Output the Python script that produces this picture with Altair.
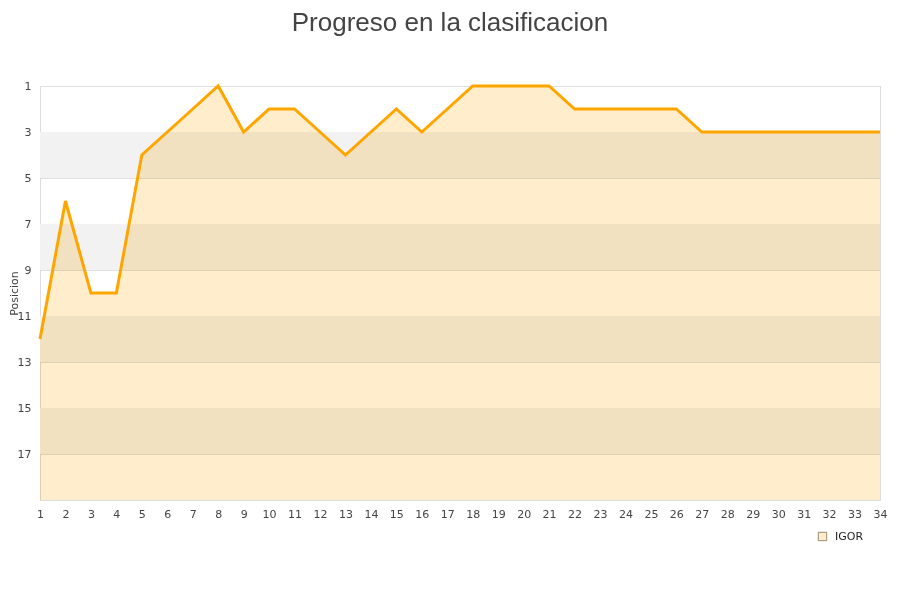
import altair as alt
import pandas as pd

rounds = list(range(1, 35))
positions = [12, 6, 10, 10, 4, 3, 2, 1, 3, 2, 2, 3, 4, 3, 2, 3, 2,
             1, 1, 1, 1, 2, 2, 2, 2, 2, 3, 3, 3, 3, 3, 3, 3, 3]
player = "IGOR"
band_starts = [3, 7, 11, 15]
band_ends = [5, 9, 13, 17]
y_ticks = [1, 3, 5, 7, 9, 11, 13, 15, 17]

df = pd.DataFrame({"jornada": rounds, "pos": positions, "name": [player] * len(rounds)})
bands = pd.DataFrame({"b0": band_starts, "b1": band_ends})

xscale = alt.Scale(domain=[1, 34], nice=False, zero=False)
yscale = alt.Scale(domain=[1, 19], reverse=True, nice=False, zero=False)

x_axis = alt.Axis(values=rounds, title=None, ticks=False, labelPadding=8,
                  grid=False, domainColor="#dddddd", labelFlush=False,
                  labelOverlap=False)
y_axis = alt.Axis(values=y_ticks, title="Posicion", ticks=False, labelPadding=9,
                  grid=True, gridColor="#e0e0e0", domainColor="#dddddd",
                  labelOverlap=False,
                  titleX=-26, titleY=207, titleAngle=-90, titleAlign="center",
                  titleBaseline="middle",
                  titleFontWeight="normal", titleFontSize=11)

X = alt.X("jornada:Q", scale=xscale, axis=x_axis)
Y = alt.Y("pos:Q", scale=yscale, axis=y_axis)

band_layer = alt.Chart(bands).mark_rect(color="#f2f2f2").encode(
    x=alt.datum(1, scale=xscale, axis=x_axis),
    x2=alt.datum(34),
    y=alt.Y("b0:Q", scale=yscale, axis=y_axis),
    y2="b1:Q",
)

base = alt.Chart(df)

area = base.mark_area(blend="multiply").encode(
    x=X,
    y=Y,
    y2=alt.datum(19),
    fill=alt.Fill("name:N", scale=alt.Scale(range=["#FFEDCC"]),
                  legend=alt.Legend(title=None, orient="none", legendX=777, legendY=445,
                                    symbolType="square", symbolSize=70,
                                    symbolStrokeColor="#9a8a70", symbolStrokeWidth=1,
                                    symbolOpacity=1, labelOffset=7,
                                    labelFontSize=11, labelColor="#222222",
                                    labelFont="DejaVu Sans")),
)

line = base.mark_line(color="#FFA500", strokeWidth=3).encode(
    x=X,
    y=Y,
)

chart = alt.layer(band_layer, area, line).properties(
    width=840,
    height=414,
    padding={"left": 32, "top": 78, "right": 12, "bottom": 80},
    autosize=alt.AutoSizeParams(type="none"),
    title=alt.TitleParams("Progreso en la clasificacion", fontSize=26, font="Liberation Sans",
                          fontWeight="normal", color="#444444", anchor="middle",
                          offset=44, dx=-10),
).configure_view(
    stroke="#dddddd",
).configure_axis(
    labelFont="DejaVu Sans", labelFontSize=11, labelColor="#444444",
    titleFont="DejaVu Sans", titleColor="#444444",
)

chart.save("out.html", embed_options={"renderer": "svg", "actions": False})
